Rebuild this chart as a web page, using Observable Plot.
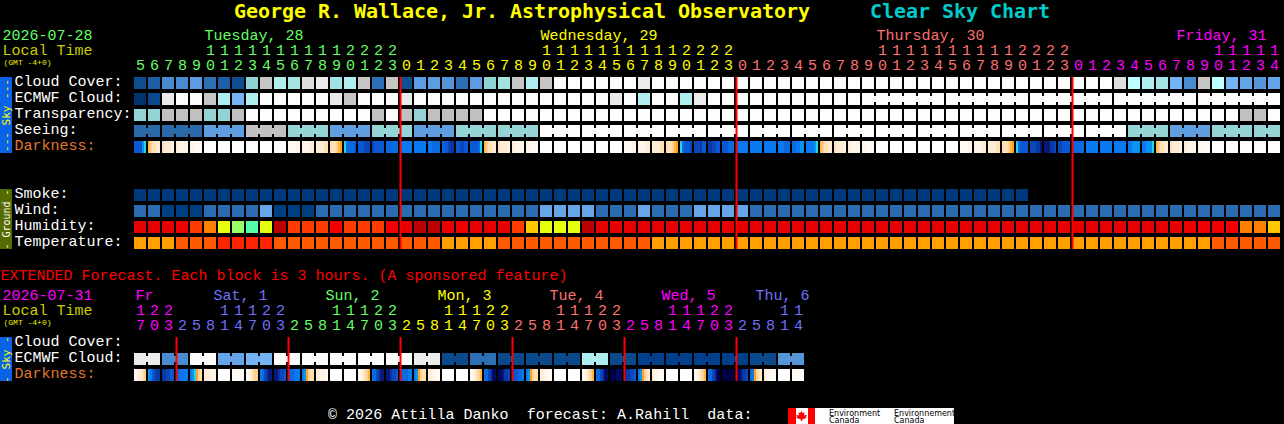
<!DOCTYPE html>
<html>
<head>
<meta charset="utf-8">
<script src="https://cdn.jsdelivr.net/npm/d3@7"></script>
<script src="https://cdn.jsdelivr.net/npm/@observablehq/plot@0.6"></script>
<style>
html,body{margin:0;padding:0;background:#000;overflow:hidden;width:1284px;height:424px}
#page{position:relative;width:1284px;height:424px;font-family:"Liberation Mono",monospace}
#page svg{position:absolute;left:0;display:block;max-width:none}
.ttl{position:absolute;top:-1px;font:bold 20px "DejaVu Sans Mono",monospace;white-space:pre;letter-spacing:-0.04px}
#foot{position:absolute;left:328px;top:407px;font:15px "Liberation Mono",monospace;color:#fff;white-space:pre;letter-spacing:0.03px}
#logo{position:absolute;left:788px;top:408px;width:166px;height:16px;background:#fff;overflow:hidden}
#logo i{position:absolute;top:0;height:16px;background:#f00}
#logo b{position:absolute;left:8px;top:3px;width:11px;height:10px;background:#f00;
 clip-path:polygon(50% 0,62% 20%,78% 14%,72% 44%,100% 38%,88% 60%,100% 68%,56% 86%,56% 100%,44% 100%,44% 86%,0 68%,12% 60%,0 38%,28% 44%,22% 14%,38% 20%)}
#logo span{position:absolute;font:8px/7px "DejaVu Sans",sans-serif;color:#000;white-space:pre}
</style>
</head>
<body>
<div id="page"></div>
<script>
// ---------- hourly values, 82 blocks ----------
const cloudCover = [
 80,75,60,60,50,70,75,80,35,15,
 25,30,10,5,30,25,15,70,15,80,
 50,50,55,70,50,35,30,15,25,15,
 0,0,0,0,0,0,5,0,0,0,
 0,0,0,0,0,0,0,0,0,0,
 0,0,0,0,0,0,0,0,0,0,
 0,0,0,0,0,0,0,0,0,0,
 10,20,25,30,40,60,15,20,40,45,
 55,45];
const ecmwfCloud = [
 90,82,5,0,0,15,25,40,25,0,
 0,0,0,0,5,15,0,0,0,5,
 0,0,0,0,0,0,0,0,0,0,
 0,0,0,0,5,0,25,0,0,25,
 5,0,0,0,0,0,0,0,0,0,
 0,0,0,0,0,0,0,0,0,0,
 0,0,0,0,0,0,0,0,0,0,
 0,0,0,0,0,0,0,0,0,0,
 0,0];
const transparency = [
 2,2,1,1,1,2,2,1,0,0,
 0,0,0,0,0,0,0,1,0,1,
 2,1,1,1,1,0,0,0,0,0,
 0,0,0,0,0,0,0,0,0,0,
 0,0,0,0,0,0,0,0,0,0,
 0,0,0,0,0,0,0,0,0,0,
 0,0,0,0,0,0,0,0,0,0,
 0,0,0,0,0,0,0,0,0,1,
 1,0];
const seeing = [
 4,4,4,4,4,3,3,3,1,1,
 1,2,2,2,3,3,3,2,2,2,
 3,3,3,2,2,2,2,2,2,0,
 0,0,0,0,0,0,0,0,0,0,
 0,0,0,0,0,0,0,0,0,0,
 0,0,0,0,0,0,0,0,0,0,
 0,0,0,0,0,0,0,0,0,0,
 0,2,2,2,3,3,3,2,2,2,
 2,2];
const darkness = [
 [12,12,12,12,9,8],[6,5,4,4,3,3],[4,3,3,3,3,2],[3,2,2,2,2,2],[2,2,1,1,1,1],
 [0],[0],[0],[0],[0],[0],
 [1,1,1,1,2,2],[2,2,2,2,3,3],[3,3,3,3,4,4],[4,4,4,5,6,7],
 [8,11,11,11,11,12],[12,12,12,13,13,13],[13,12,12,12,12,12],[11],[10],
 [10],[10,10,11,11,11,11],[11,12,12,13,14,14],[12,12,13,13,12,12],[12,12,12,12,11,8],
 [6,5,4,4,3,3],[4,3,3,3,3,2],[3,2,2,2,2,2],[2,2,1,1,1,1],
 [0],[0],[0],[0],[0],[0],
 [1,1,1,1,2,2],[2,2,2,2,3,3],[3,3,3,3,4,4],[4,4,4,5,6,7],
 [8,11,12,12,12,13],[13,13,13,14,12,12],[14,14,13,13,12,12],[12,12,12,11,11,11],[11,10,10,10,10,10],
 [10],[10],[10,10,10,11,11,11],[11,11,10,10,9,9],[10,10,10,10,9,8],
 [6,5,4,4,3,3],[4,3,3,3,3,2],[3,2,2,2,2,2],[2,2,1,1,1,1],
 [0],[0],[0],[0],[0],[0],
 [1,1,1,1,2,2],[2,2,2,2,3,3],[3,3,3,3,4,4],[4,4,4,5,6,7],
 [8,11,12,12,12,12],[13,13,13,14,14,15],[15,15,15,14,14,13],[13,13,12,12,12,12],[11],[10],[10],[10],
 [10,10,9,9,9,9],[10,10,9,9,9,8],
 [6,5,4,4,3,3],[4,3,3,3,3,2],[3,2,2,2,2,2],[2,1,1,1,1,1],
 [0],[0],[0],[0],[0]];
const smoke = [
 1,1,1,1,1,1,1,1,1,1,1,1,1,1,1,1,1,1,1,1,1,1,1,1,1,1,1,1,1,1,1,1,
 1,1,1,1,1,1,1,1,1,1,1,1,1,1,1,1,1,1,1,1,1,1,1,1,1,1,1,1,1,1,1,1];
const wind = [
 8,8,3,3,3,8,8,8,8,14,
 3,3,3,8,8,8,8,8,8,8,
 8,8,8,8,8,8,8,8,8,14,
 14,14,14,8,8,8,14,8,8,8,
 14,14,14,14,8,8,8,8,8,8,
 8,8,8,8,8,8,8,8,8,8,
 8,8,8,8,8,8,8,8,8,8,
 8,8,8,8,8,8,8,8,8,8,
 8,8];
const humidity = [
 90,90,90,85,80,70,55,50,45,55,
 97,80,80,80,85,80,80,80,85,90,
 97,97,90,85,90,90,90,80,65,55,
 55,55,97,90,90,90,90,90,90,90,
 90,90,90,90,90,90,90,90,90,90,
 90,90,90,90,90,90,90,90,90,90,
 90,90,90,90,90,90,90,90,90,90,
 90,90,90,90,90,85,85,85,85,70,
 70,65];
const temperature = [
 65,65,65,72,72,72,80,80,80,80,
 72,72,72,72,72,72,72,72,72,72,
 72,72,65,65,65,65,72,72,72,72,
 72,72,72,72,72,72,72,65,65,65,
 65,65,65,65,65,65,65,65,65,65,
 65,65,65,65,65,65,65,65,65,65,
 65,65,65,65,65,65,65,65,65,65,
 65,65,65,65,65,65,65,72,72,72,
 72,72];
const hours = [
 5,6,7,8,9,10,11,12,13,14,15,16,17,18,19,20,21,22,23,
 0,1,2,3,4,5,6,7,8,9,10,11,12,13,14,15,16,17,18,19,20,21,22,23,
 0,1,2,3,4,5,6,7,8,9,10,11,12,13,14,15,16,17,18,19,20,21,22,23,
 0,1,2,3,4,5,6,7,8,9,10,11,12,13,14];
const dayNames = ["Tuesday, 28","Wednesday, 29","Thursday, 30","Friday, 31"];
const dayFirstBlock = [0,19,43,67];
const dayLabelBlock = [5,29,53,74.43];
const midnights = [19,43,67];

// ---------- extended forecast, 48 three-hour blocks ----------
const extEcmwf = [
 5,5,60,60,0,0,45,45,40,40,0,0,0,0,0,0,0,0,0,0,5,5,
 82,82,70,70,82,82,82,82,82,82,25,25,82,82,85,85,85,85,85,85,85,85,82,82,55,55];
const extDarkness = [
 [1,2,3,3,4,5],[9,10,12,13,14,14],[14,14,13,13,12,12],[11,11,10,10,10,10],[10,9,8,7,5,4],[3,3,3,2,2,2],[0],[1],
 [1,2,3,4,5,5],[10,11,13,14,15,15],[15,15,14,13,13,12],[12,11,11,10,10,10],[10,9,7,5,4,4],[3,3,2,2,2,1],[0],[0],
 [1,2,3,4,5,6],[11,11,13,14,15,15],[15,15,14,13,13,12],[12,11,11,11,10,10],[10,9,7,5,4,4],[3,3,2,2,1,1],[0],[0],
 [1,2,3,4,5,6],[11,11,13,14,16,16],[16,16,15,14,14,13],[13,12,12,11,11,10],[10,9,7,5,4,4],[3,3,2,2,1,1],[0],[0],
 [1,2,3,4,5,6],[11,11,13,14,16,16],[17,17,17,16,16,16],[15,14,14,13,13,12],[10,9,7,5,4,3],[3,2,2,1,1,1],[0],[0],
 [1,2,3,4,5,6],[11,11,13,14,16,17],[17],[16,16,15,14,14,13],[11,10,7,5,4,3],[3,2,2,1,1,1],[0],[1]];
const extHours = [
 17,20,23,
 2,5,8,11,14,17,20,23, 2,5,8,11,14,17,20,23, 2,5,8,11,14,17,20,23,
 2,5,8,11,14,17,20,23, 2,5,8,11,14,17,20,23, 2,5,8,11,14];
const extDayNames = ["Fr","Sat, 1","Sun, 2","Mon, 3","Tue, 4","Wed, 5","Thu, 6"];
const extDayFirstBlock = [0,3,11,19,27,35,43];
const extDayLabelBlock = [0.07,5.65,13.65,21.65,29.65,37.65,44.35];
const extMidnights = [3,11,19,27,35,43];

const topRows = ["Cloud Cover:","ECMWF Cloud:","Transparency:","Seeing:","Darkness:"];
const groundRows = ["Smoke:","Wind:","Humidity:","Temperature:"];
const extRows = ["Cloud Cover:","ECMWF Cloud:","Darkness:"];

// ---------- palettes (value -> colour) ----------
const palettes = {
 cloud: {0:"#fdfdfd",5:"#ebebeb",10:"#dddddd",15:"#c6c6c6",20:"#bbffff",25:"#aeeeee",30:"#a3e3e3",35:"#8fd4d4",
         40:"#74b4f4",45:"#64a4e8",50:"#5b9de0",55:"#5596d8",60:"#4a8bd0",70:"#2d6fb5",75:"#1e5ea6",80:"#0f4f90",
         82:"#0a4a8c",85:"#00408a",90:"#00326e"},
 sky: {0:"#fefefe",1:"#c1c1c1",2:"#95d4d4",3:"#5f9fe0",4:"#2a6aa8"},
 dark: {0:"#ffffff",1:"#fffaf4",2:"#fff4e8",3:"#ffecd4",4:"#ffe0b0",5:"#ffd090",6:"#ffb848",7:"#ffa020",8:"#20d8e0",
        9:"#0a94f0",10:"#0a78f0",11:"#0a6ae0",12:"#0a58d4",13:"#0a48b8",14:"#0838a8",15:"#081878",16:"#000860",17:"#000044"},
 smoke: {1:"#00397b"},
 wind: {3:"#003f80",8:"#2b6cb0",14:"#66a6e8"},
 hum: {97:"#bb0000",90:"#e60000",85:"#f00000",80:"#ff3c00",70:"#ff8000",65:"#ffc800",55:"#e8ff10",50:"#99ff66",45:"#55ffaa"},
 temp: {65:"#ffa000",72:"#ff5a00",80:"#ff2400"}
};
const colorDomain = [], colorRange = [];
for (const [p, m] of Object.entries(palettes)) for (const [v, c] of Object.entries(m)) { colorDomain.push(p + ":" + v); colorRange.push(c); }

const dayColors = ["#66ff66","#ffff00","#ff7070","#ff00ff"];
const extDayColors = ["#ff00ff","#7070ff","#66ff66","#ffff00","#ff7070","#ff00ff","#7070ff"];

// ---------- geometry of the grid: one block is 14px wide, one row 16px high ----------
const W = 1284, BLOCK = 14, ROW = 16, LEFT = 134;
const FILL = 12 / BLOCK, RFILL = 12 / ROW, NOTCH = 3 / ROW, NOTCH2 = 9 / ROW;
const FONT = '"Liberation Mono",monospace';
const pxX = p => (p - LEFT) / BLOCK;

const blocks = (vals, r, p) => vals.map((v, i) => ({i, r, k: p + ":" + v}));
const bridges = (vals, r, p, joined) => vals.flatMap((v, i) => i < vals.length - 1 && joined(i) ? [{i, r, k: p + ":" + v}] : []);
const slices = (vals, r) => vals.flatMap((s, i) => s.map((v, j) => ({x1: i + FILL * j / s.length, x2: i + FILL * (j + 1) / s.length, r, k: "dark:" + v})));

const blockMark = d => Plot.rect(d, {x1: "i", x2: c => c.i + FILL, y1: "r", y2: c => c.r + RFILL, fill: "k"});
const bridgeMark = d => Plot.rect(d, {x1: c => c.i + FILL, x2: c => c.i + 1, y1: c => c.r + NOTCH, y2: c => c.r + NOTCH2, fill: "k"});
const sliceMark = d => Plot.rect(d, {x1: "x1", x2: "x2", y1: "r", y2: c => c.r + RFILL, fill: "k"});

const label = (t, xp, yr, size, fill, extra = {}) =>
  Plot.text([t], {x: () => pxX(xp), y: () => yr, text: d => d, textAnchor: "start", fontSize: size, fill, fontFamily: FONT, ...extra});
const rowLabels = (names, start, colorOf) => names.map((n, j) => label(n, 14, start + j + 0.25, 15, colorOf(n)));

function hourMarks(hrs, firstBlocks, colors) {
  const out = [];
  firstBlocks.forEach((f, d) => {
    const end = d + 1 < firstBlocks.length ? firstBlocks[d + 1] : hrs.length;
    const cells = d3.range(f, end).map(i => ({i, h: hrs[i]}));
    out.push(Plot.text(cells.filter(c => c.h >= 10), {x: c => c.i + 0.43, y: () => -1.6875, text: c => String(c.h)[0], fill: colors[d], fontSize: 15, fontFamily: FONT}));
    out.push(Plot.text(cells, {x: c => c.i + 0.43, y: () => -0.75, text: c => String(c.h % 10), fill: colors[d], fontSize: 15, fontFamily: FONT}));
  });
  return out;
}
const dayMarks = (names, at, colors) => names.map((n, d) => label(n, LEFT + at[d] * BLOCK, -2.625, 15, colors[d]));
const ruleMark = (at, bottom) => Plot.ruleX(at, {x: d => d, y1: () => 0, y2: () => bottom, stroke: "#f00", strokeWidth: 2});
const sideBar = (rowStart, rowEnd, fill, text, textFill, size) => [
  Plot.rect([0], {x1: () => pxX(0), x2: () => pxX(12), y1: () => rowStart, y2: () => rowEnd, fill: () => fill, }),
  Plot.text([text], {x: () => pxX(6), y: () => (rowStart + rowEnd) / 2, text: d => d, rotate: -90, fill: textFill, fontSize: size, fontFamily: '"DejaVu Sans Mono",monospace'})
];
const labelColor = n => n === "Darkness:" ? "#e07830" : "#ffffff";

const rowZero = {24: 53, 262: 75};
function chart(top, height, marks) {
  return Plot.plot({
    width: W, height, margin: 0,
    style: {background: "transparent", top: top + "px", overflow: "visible"},
    x: {axis: null, domain: [pxX(0), pxX(W)], range: [0, W]},
    y: {axis: null, domain: [-rowZero[top] / ROW, (height - rowZero[top]) / ROW], range: [0, height]},
    color: {type: "ordinal", domain: [...colorDomain, "#0a62e6", "#556b00"], range: [...colorRange, "#0a62e6", "#556b00"]},
    marks
  });
}

const mainSVG = chart(24, 238, [
  blockMark(blocks(cloudCover, 0, "cloud")),
  blockMark(blocks(ecmwfCloud, 1, "cloud")),
  bridgeMark(bridges(ecmwfCloud, 1, "cloud", i => i >= 52 && (i - 52) % 6 !== 5)),
  blockMark(blocks(transparency, 2, "sky")),
  blockMark(blocks(seeing, 3, "sky")),
  bridgeMark(bridges(seeing, 3, "sky", i => i < 2 ? i === 0 : (i - 2) % 3 !== 2)),
  sliceMark(slices(darkness, 4)),
  blockMark(blocks(smoke, 7, "smoke")),
  blockMark(blocks(wind, 8, "wind")),
  blockMark(blocks(humidity, 9, "hum")),
  blockMark(blocks(temperature, 10, "temp")),
  ruleMark(midnights, 11 - 4 / ROW),
  ...sideBar(0, 5 - 4 / ROW, "#0a62e6", "--- Sky ---", "#ffff00", 11),
  ...sideBar(7, 11 - 4 / ROW, "#556b00", "- Ground -", "#ffffff", 10),
  ...rowLabels(topRows, 0, labelColor),
  ...rowLabels(groundRows, 7, labelColor),
  label("2026-07-28", 2, -2.625, 15, "#66ff66"),
  label("Local Time", 2, -1.6875, 15, "#cccc00"),
  label("(GMT -4+0)", 3, -0.94, 8, "#eeee00"),
  ...dayMarks(dayNames, dayLabelBlock, dayColors),
  ...hourMarks(hours, dayFirstBlock, dayColors)
]);

const extSVG = chart(262, 138, [
  bridgeMark(bridges(extEcmwf, 1, "cloud", i => i % 2 === 0)),
  blockMark(blocks(extEcmwf, 1, "cloud")),
  sliceMark(slices(extDarkness, 2)),
  ruleMark(extMidnights, 3 - 4 / ROW),
  ...sideBar(0, 3 - 4 / ROW, "#0a62e6", "- Sky -", "#ffff00", 11),
  ...rowLabels(extRows, 0, labelColor),
  label("EXTENDED Forecast. Each block is 3 hours. (A sponsored feature)", 0, -3.875, 15, "#ff0000"),
  label("2026-07-31", 2, -2.625, 15, "#ff00ff"),
  label("Local Time", 2, -1.6875, 15, "#cccc00"),
  label("(GMT -4+0)", 3, -0.94, 8, "#eeee00"),
  ...dayMarks(extDayNames, extDayLabelBlock, extDayColors),
  ...hourMarks(extHours, extDayFirstBlock, extDayColors)
]);

const page = document.getElementById("page");
page.innerHTML = `
 <div class="ttl" style="left:234px;color:#ffff00">George R. Wallace, Jr. Astrophysical Observatory</div>
 <div class="ttl" style="left:870px;color:#00cccc">Clear Sky Chart</div>
 <div id="foot">© 2026 Attilla Danko  forecast: A.Rahill  data:</div>
 <div id="logo"><i style="left:0;width:8px"></i><i style="left:20px;width:7px"></i><b></b>
  <span style="left:41px;top:2px">Environment
Canada</span><span style="left:106px;top:2px">Environnement
Canada</span></div>`;
page.prepend(extSVG);
page.prepend(mainSVG);
</script>
</body>
</html>
